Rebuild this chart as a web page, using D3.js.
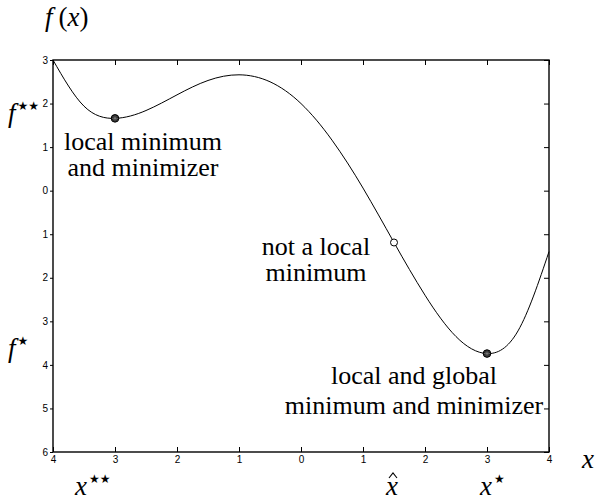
<!DOCTYPE html>
<html>
<head>
<meta charset="utf-8">
<script src="https://cdn.jsdelivr.net/npm/d3@7"></script>
<style>
  body { margin: 0; background: #fff; }
</style>
</head>
<body>
<svg id="chart" width="595" height="504"></svg>
<script>
// curve samples
var xs = [-4, -3.5, -3, -2.5, -2, -1.5, -1, -0.5, 0, 0.5, 1, 1.5, 2, 2.5, 3, 3.5, 4]
var fs = [3.0, 1.94, 1.66, 1.84, 2.2, 2.53, 2.66, 2.5, 2.0, 1.16, 0.06, -1.19, -2.4, -3.35, -3.74, -3.22, -1.4]

// special points: x, f, kind
var marks = [
    {x: -3, f: 1.66, kind: "min"},
    {x: 1.5, f: -1.19, kind: "open"},
    {x: 3, f: -3.74, kind: "min"}
]

var xTicks = [-4, -3, -2, -1, 0, 1, 2, 3, 4]
var yTicks = [3, 2, 1, 0, -1, -2, -3, -4, -5, -6]

var serif = "Liberation Serif"

var svg = d3.select("#chart")
var x = d3.scaleLinear().domain([-4, 4]).range([53, 549])
var y = d3.scaleLinear().domain([-6, 3]).range([452, 60])

// tick labels in the figure carry no minus sign
var fmt = function(d) { return String(Math.abs(d)) }

svg.append("g").attr("transform", "translate(0,452)")
    .call(d3.axisBottom(x).tickValues(xTicks).tickFormat(fmt).tickSizeInner(-5).tickSizeOuter(0).tickPadding(4))
svg.append("g").attr("transform", "translate(0,60)")
    .call(d3.axisTop(x).tickValues(xTicks).tickFormat("").tickSizeInner(-5).tickSizeOuter(0))
svg.append("g").attr("transform", "translate(53,0)")
    .call(d3.axisLeft(y).tickValues(yTicks).tickFormat(fmt).tickSizeInner(3).tickSizeOuter(0).tickPadding(2))
svg.append("g").attr("transform", "translate(549,0)")
    .call(d3.axisRight(y).tickValues(yTicks).tickFormat("").tickSizeInner(-5).tickSizeOuter(0))
svg.selectAll(".domain").remove()
svg.selectAll(".tick line").attr("stroke", "#000").attr("stroke-width", 1)
svg.selectAll(".tick text").style("font-family", "Liberation Sans").style("font-size", "10px").attr("fill", "#000")

svg.append("rect")
    .attr("x", x(-4)).attr("y", y(3))
    .attr("width", x(4) - x(-4)).attr("height", y(-6) - y(3))
    .attr("fill", "none").attr("stroke", "#000").attr("stroke-width", 1.4)

var pts = xs.map(function(v, i) { return [v, fs[i]] })
var line = d3.line().x(function(d) { return x(d[0]) }).y(function(d) { return y(d[1]) }).curve(d3.curveNatural)
svg.append("path").datum(pts).attr("d", line)
    .attr("fill", "none").attr("stroke", "#000").attr("stroke-width", 1)

marks.forEach(function(m) {
    var cx = x(m.x), cy = y(m.f)
    if (m.kind == "open") {
        svg.append("circle").attr("cx", cx).attr("cy", cy).attr("r", 3.5)
            .attr("fill", "#fff").attr("stroke", "#000").attr("stroke-width", 1)
    } else {
        svg.append("circle").attr("cx", cx).attr("cy", cy).attr("r", 3.8)
            .attr("fill", "#222").attr("stroke", "#000").attr("stroke-width", 1)
        var r = 3
        ;[0, 45, 90, 135].forEach(function(a) {
            var t = a * Math.PI / 180
            svg.append("line")
                .attr("x1", cx - r * Math.cos(t)).attr("y1", cy - r * Math.sin(t))
                .attr("x2", cx + r * Math.cos(t)).attr("y2", cy + r * Math.sin(t))
                .attr("stroke", "#888").attr("stroke-width", 0.6)
        })
    }
})

// annotation text, one text element per block
function words(lines, cx, y0, dy) {
    var t = svg.append("text")
        .attr("font-family", serif).attr("font-size", 26)
        .attr("text-anchor", "middle").attr("fill", "#000")
    lines.forEach(function(s, i) {
        t.append("tspan").attr("x", cx).attr("y", y0 + i * dy).text(s)
    })
}
words(["local minimum", "and minimizer"], 143, 150, 26)
words(["not a local", "minimum"], 316, 255, 26)
words(["local and global", "minimum and minimizer"], 414, 384, 30)

// math labels
function mathLabel(px, py, base, sup) {
    var t = svg.append("text").attr("font-family", serif)
        .attr("x", px).attr("y", py).attr("font-size", 27).attr("fill", "#000")
    t.append("tspan").attr("font-style", "italic").text(base)
    if (sup) {
        t.append("tspan").attr("font-family", "DejaVu Sans").attr("font-size", 12)
            .attr("dy", -12).attr("dx", 2).text(sup)
    }
    return t
}

var fx = svg.append("text").attr("font-family", serif).attr("x", 45).attr("y", 26).attr("font-size", 27)
fx.append("tspan").attr("font-style", "italic").text("f")
fx.append("tspan").attr("dx", 6).text("(")
fx.append("tspan").attr("font-style", "italic").text("x")
fx.append("tspan").text(")")

mathLabel(8, 122, "f", "\u2605\u2605")
mathLabel(8, 357, "f", "\u2605")
mathLabel(582, 468, "x")
mathLabel(75, 495, "x", "\u2605\u2605")
mathLabel(480, 495, "x", "\u2605")
mathLabel(386, 495, "x")

// hat over x-hat, drawn as a small stroke
svg.append("path").attr("d", "M389,478 L393,473 L397,478")
    .attr("fill", "none").attr("stroke", "#000").attr("stroke-width", 1.1)
</script>
</body>
</html>
